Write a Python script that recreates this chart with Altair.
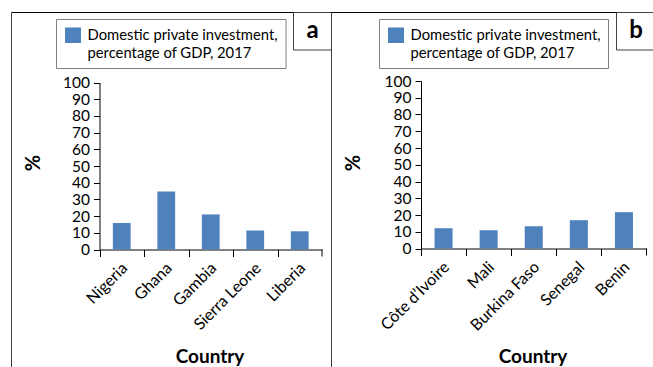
import altair as alt
import pandas as pd

# ---- data ----
countries_a = ["Nigeria", "Ghana", "Gambia", "Sierra Leone", "Liberia"]
values_a = [15.8, 34.8, 21.0, 11.4, 10.9]
countries_b = ["Côte d’Ivoire", "Mali", "Burkina Faso", "Senegal", "Benin"]
values_b = [12.1, 10.9, 13.3, 16.9, 21.7]
legend_lines = ["Domestic private investment,", "percentage of GDP, 2017"]
y_ticks = list(range(0, 101, 10))
panel_tags = ["a", "b"]
x_title = "Country"
y_title = "%"

FONT = "Lato"
BLUE = "#4F81BD"
W, H = 653, 367
ONE = alt.Data(values=[{}])


def bars(countries, values, x0, x1, y0, y1):
    df = pd.DataFrame({"country": countries, "value": values})
    step = (x1 - x0) / len(countries)
    return alt.Chart(df).mark_bar(color=BLUE).encode(
        x=alt.X(
            "country:N", sort=countries, title=None,
            scale=alt.Scale(range=[x0, x1], paddingInner=0.6, paddingOuter=0.3),
            axis=alt.Axis(orient="bottom", offset=y0 - H, labelAngle=-45,
                          tickSize=7, tickOffset=-step / 2, labelOffset=step / 2 - 3,
                          labelPadding=3, labelFontSize=16, labelOverlap=False,
                          grid=False),
        ),
        y=alt.Y(
            "value:Q", title=None,
            scale=alt.Scale(domain=[0, 100], range=[y0, y1], nice=False),
            axis=alt.Axis(orient="left", offset=-x0, values=y_ticks, tickSize=6,
                          labelPadding=4, labelFontSize=15.5, labelOverlap=False,
                          labelBound=False, grid=False),
        ),
    )


def rule(x, x2, y, y2, color="#000000", width=1):
    return alt.Chart(ONE).mark_rule(color=color, strokeWidth=width).encode(
        x=alt.value(x), x2=alt.value(x2), y=alt.value(y), y2=alt.value(y2))


def rect(x, x2, y, y2, fill, stroke=None, opacity=1):
    kw = dict(fill=fill, fillOpacity=opacity)
    if stroke:
        kw.update(stroke=stroke, strokeWidth=1)
    return alt.Chart(ONE).mark_rect(**kw).encode(
        x=alt.value(x), x2=alt.value(x2), y=alt.value(y), y2=alt.value(y2))


def text(t, x, y, size, weight="normal", align="center", baseline="alphabetic", angle=0, line_height=None):
    kw = dict(text=t, font=FONT, fontSize=size, fontWeight=weight, align=align,
              baseline=baseline, color="#000000")
    if angle:
        kw["angle"] = angle
    if line_height:
        kw["lineHeight"] = line_height
    return alt.Chart(ONE).mark_text(**kw).encode(x=alt.value(x), y=alt.value(y))


def decorations(px0, px1, tag_x0, tag_x1, ax_x1, ax_y0, yt_x, xt_x):
    return [
        # legend box
        rect(px0, px1, 19.5, 68.5, "white", "#808080"),
        rect(px0 + 8.5, px0 + 24.5, 27.5, 43, BLUE),
        text(legend_lines, px0 + 31, 40, 14.8, align="left", line_height=17.5),
        # tag box
        rect(tag_x0, tag_x1, 12.5, 50, "white", "#404040", opacity=0),
        # last tick at end of category axis
        rule(ax_x1, ax_x1, ax_y0, ax_y0 + 7),
        # axis titles
        text(y_title, yt_x, 163, 20, weight="bold", baseline="middle", angle=270),
        text(x_title, xt_x, 363, 19, weight="bold"),
    ]


layers = [
    bars(countries_a, values_a, 99.5, 322, 249.5, 82.5),
    bars(countries_b, values_b, 421, 646.5, 248.5, 81),
    # frame lines
    rule(11.5, 653, 12.5, 12.5, "#000000"),
    rule(11.5, 11.5, 12.5, 367, "#404040"),
    rule(331.5, 331.5, 12.5, 367, "#404040"),
]
layers += decorations(56.5, 286, 293.5, 331.5, 322, 249.5, 34, 210)
layers.append(text(panel_tags[0], 312.5, 38, 24, weight="bold"))
layers += decorations(379.5, 608.5, 616.5, 660, 646.5, 248.5, 354, 533)
layers.append(text(panel_tags[1], 636, 37.5, 24, weight="bold"))

chart = (
    alt.layer(*layers)
    .resolve_scale(x="independent", y="independent")
    .resolve_axis(x="independent", y="independent")
    .properties(width=W, height=H, autosize=alt.AutoSizeParams(type="none"),
                padding=0, background="white")
    .configure_view(stroke=None)
    .configure_axis(domainColor="#000000", tickColor="#000000", labelColor="#000000",
                    labelFont=FONT, domainWidth=1, tickWidth=1)
)

chart.save("out.html", embed_options={"renderer": "svg", "actions": False})
